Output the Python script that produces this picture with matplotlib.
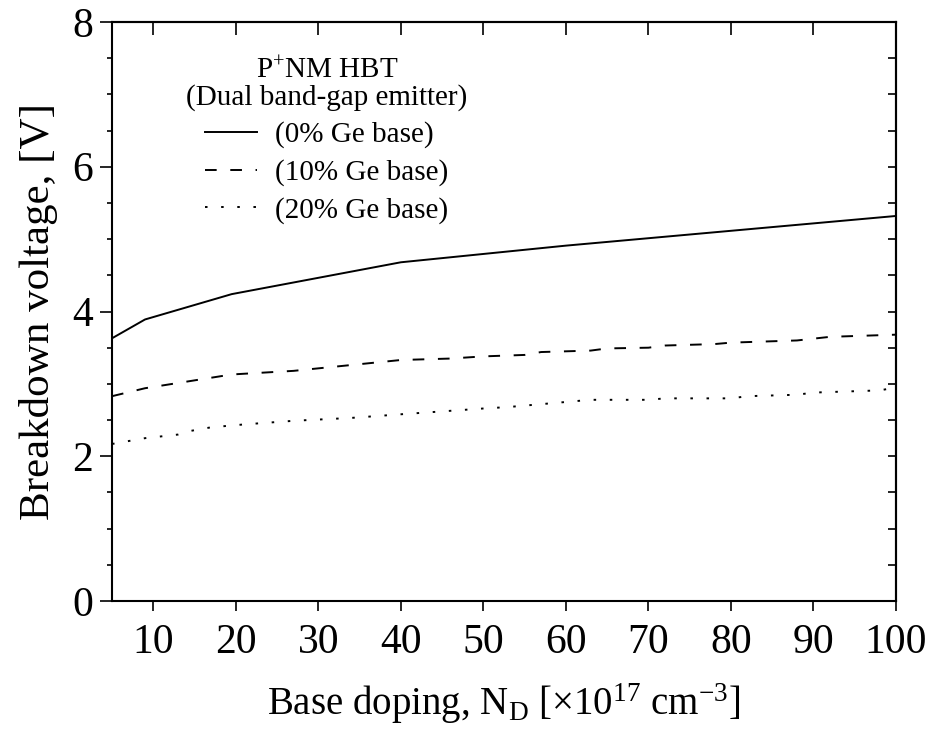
import numpy as np
import matplotlib

matplotlib.use('Agg')
import matplotlib.pyplot as plt

plt.rcParams['font.family'] = ['Liberation Serif', 'DejaVu Serif']
plt.rcParams['mathtext.fontset'] = 'custom'
plt.rcParams['mathtext.rm'] = 'Liberation Serif'
plt.rcParams['mathtext.it'] = 'Liberation Serif:italic'

# base doping N_D [1e17 cm^-3] vs breakdown voltage [V]
X_GE0 = [5, 9, 19.5, 40, 60, 100]
V_GE0 = [3.63, 3.89, 4.24, 4.68, 4.91, 5.32]

X_GE10 = [5, 9, 19.5, 27, 40, 46, 50, 55, 57, 63, 65, 70, 72, 78, 80, 88, 92, 100]
V_GE10 = [2.83, 2.94, 3.13, 3.18, 3.33, 3.35, 3.38, 3.40, 3.44, 3.46, 3.49,
          3.50, 3.53, 3.55, 3.57, 3.60, 3.65, 3.68]

X_GE20 = [5, 9, 13, 14.5, 17, 21, 27, 34, 40, 50, 53, 59, 63, 70, 72, 80, 82,
          88, 90, 98, 100]
V_GE20 = [2.17, 2.25, 2.30, 2.35, 2.40, 2.44, 2.49, 2.53, 2.58, 2.66, 2.68,
          2.74, 2.78, 2.78, 2.80, 2.80, 2.83, 2.85, 2.88, 2.91, 2.95]

LABELS = ['(0% Ge base)', '(10% Ge base)', '(20% Ge base)']
XTICKS = [10, 20, 30, 40, 50, 60, 70, 80, 90, 100]
YTICKS = [0, 2, 4, 6, 8]

LW = 1.4
fig = plt.figure(figsize=(9.35, 7.4), dpi=100)
ax = fig.add_axes([0.1198, 0.1878, 0.8385, 0.7825])

l0, = ax.plot(X_GE0, V_GE0, color='black', lw=LW)
l1, = ax.plot(X_GE10, V_GE10, color='black', lw=LW, dashes=(6, 7))
l2, = ax.plot(X_GE20, V_GE20, color='black', lw=LW, dashes=(1.3, 7))

ax.set_xlim(5, 100)
ax.set_ylim(0, 8)
ax.set_xticks(XTICKS)
ax.set_yticks(YTICKS)
ax.set_yticks(np.arange(0, 8.01, 0.5), minor=True)
ax.tick_params(axis='x', direction='out', length=7.2, width=1.2, labelsize=30, pad=9)
ax.tick_params(axis='y', which='major', direction='out', length=8.6, width=1.2,
               labelsize=30, pad=5)
ax.tick_params(axis='y', which='minor', direction='out', length=3.6, width=1.2)
for s in ax.spines.values():
    s.set_linewidth(1.5)

# inward ticks on the top and right frame
top = ax.secondary_xaxis('top')
top.set_xticks(XTICKS)
top.tick_params(direction='in', length=9, width=1.2, labeltop=False)
right = ax.secondary_yaxis('right')
right.set_yticks(np.arange(0, 8.01, 0.5))
right.tick_params(direction='in', length=5.5, width=1.2, labelright=False)
for sec in (top, right):
    for s in sec.spines.values():
        s.set_linewidth(1.5)

ax.set_xlabel(r'Base doping, N$_{\mathrm{D}}$ [×10$^{17}$ cm$^{-3}$]', fontsize=28,
              labelpad=14)
ax.set_ylabel('Breakdown voltage, [V]', fontsize=31, labelpad=10)

leg = ax.legend([l0, l1, l2], LABELS,
                title='P$^{+}$NM HBT\n(Dual band-gap emitter)',
                loc='upper center', bbox_to_anchor=(0.274, 0.94), frameon=False,
                fontsize=21, title_fontsize=21, handlelength=1.77,
                handletextpad=0.63, labelspacing=0.37, borderpad=0, borderaxespad=0)
leg.get_title().set_multialignment('center')
leg.get_title().set_linespacing(1.0)

fig.savefig('out.png', dpi=100)
